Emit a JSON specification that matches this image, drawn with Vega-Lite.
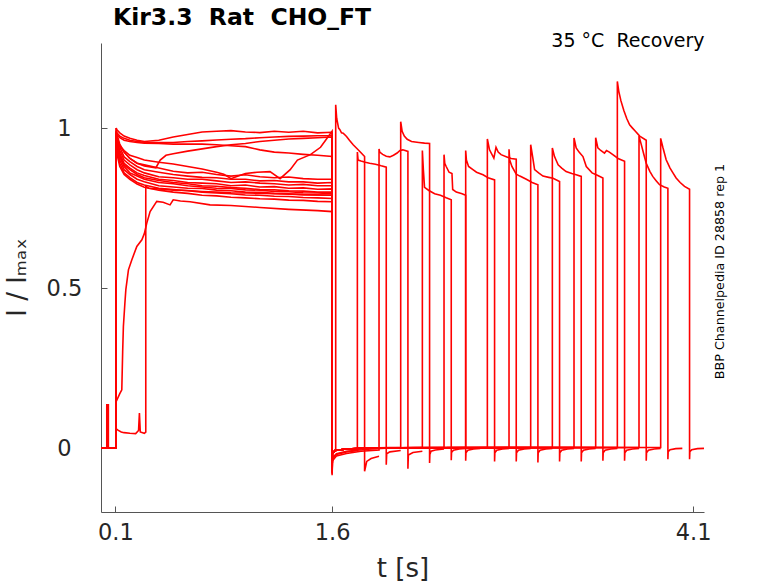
{
  "$schema": "https://vega.github.io/schema/vega-lite/v6.json",
  "autosize": "none",
  "width": 603,
  "height": 469,
  "padding": {"left": 101, "top": 43, "right": 74, "bottom": 71},
  "title": {
    "text": "Kir3.3\u00a0\u00a0Rat\u00a0\u00a0CHO_FT",
    "anchor": "start",
    "frame": "group",
    "font": "DejaVu Sans",
    "fontSize": 23.5,
    "fontWeight": "bold",
    "color": "#000000",
    "baseline": "alphabetic",
    "offset": 7,
    "dx": 12,
    "dy": 24
  },
  "config": {
    "view": {"stroke": null},
    "font": "DejaVu Sans",
    "axis": {"grid": false}
  },
  "data": {
    "values": [
      {"s":"A","t":0,"i":0},{"s":"A","t":0.105,"i":0},{"s":"A","t":0.105,"i":1.0},{"s":"A","t":0.11,"i":0.995},{"s":"A","t":0.13,"i":0.985},{"s":"A","t":0.16,"i":0.975},{"s":"A","t":0.2,"i":0.968},{"s":"A","t":0.25,"i":0.962},{"s":"A","t":0.3,"i":0.958},{"s":"A","t":0.4,"i":0.962},{"s":"A","t":0.5,"i":0.972},{"s":"A","t":0.6,"i":0.98},{"s":"A","t":0.7,"i":0.988},{"s":"A","t":0.8,"i":0.99},{"s":"A","t":0.9,"i":0.992},{"s":"A","t":1.0,"i":0.988},{"s":"A","t":1.1,"i":0.986},{"s":"A","t":1.2,"i":0.99},{"s":"A","t":1.3,"i":0.987},{"s":"A","t":1.4,"i":0.99},{"s":"A","t":1.5,"i":0.985},{"s":"A","t":1.6,"i":0.987},{"s":"A","t":1.6,"i":-0.07},{"s":"A","t":1.602,"i":-0.018},{"s":"A","t":1.62,"i":-0.008},{"s":"A","t":1.7,"i":-0.003},{"s":"A","t":1.85,"i":0},{"s":"A","t":3.575,"i":0.002},{"s":"A","t":3.575,"i":1.146},{"s":"A","t":3.585,"i":1.115},{"s":"A","t":3.6,"i":1.085},{"s":"A","t":3.62,"i":1.055},{"s":"A","t":3.64,"i":1.03},{"s":"A","t":3.66,"i":1.01},{"s":"A","t":3.68,"i":1.0},{"s":"A","t":3.7,"i":0.99},{"s":"A","t":3.73,"i":0.975},{"s":"A","t":3.775,"i":0.962},{"s":"A","t":3.775,"i":-0.04},{"s":"A","t":3.777,"i":-0.015},{"s":"A","t":3.79,"i":-0.007},{"s":"A","t":3.83,"i":-0.003},{"s":"A","t":3.875,"i":-0.001},

      {"s":"B","t":0,"i":0},{"s":"B","t":0.105,"i":0},{"s":"B","t":0.105,"i":0.99},{"s":"B","t":0.11,"i":0.985},{"s":"B","t":0.13,"i":0.975},{"s":"B","t":0.16,"i":0.968},{"s":"B","t":0.2,"i":0.962},{"s":"B","t":0.25,"i":0.958},{"s":"B","t":0.3,"i":0.956},{"s":"B","t":0.4,"i":0.955},{"s":"B","t":0.5,"i":0.955},{"s":"B","t":0.6,"i":0.958},{"s":"B","t":0.7,"i":0.96},{"s":"B","t":0.8,"i":0.963},{"s":"B","t":0.9,"i":0.965},{"s":"B","t":1.0,"i":0.967},{"s":"B","t":1.1,"i":0.97},{"s":"B","t":1.2,"i":0.972},{"s":"B","t":1.3,"i":0.974},{"s":"B","t":1.4,"i":0.975},{"s":"B","t":1.5,"i":0.976},{"s":"B","t":1.6,"i":0.976},{"s":"B","t":1.6,"i":-0.075},{"s":"B","t":1.602,"i":-0.02},{"s":"B","t":1.615,"i":-0.01},{"s":"B","t":1.625,"i":-0.008},{"s":"B","t":1.625,"i":1.073},{"s":"B","t":1.632,"i":1.03},{"s":"B","t":1.645,"i":1.0},{"s":"B","t":1.654,"i":0.995},{"s":"B","t":1.665,"i":0.985},{"s":"B","t":1.677,"i":0.984},{"s":"B","t":1.7,"i":0.974},{"s":"B","t":1.72,"i":0.962},{"s":"B","t":1.746,"i":0.948},{"s":"B","t":1.77,"i":0.937},{"s":"B","t":1.792,"i":0.927},{"s":"B","t":1.825,"i":0.911},{"s":"B","t":1.825,"i":-0.073},{"s":"B","t":1.84,"i":-0.042},{"s":"B","t":1.87,"i":-0.033},{"s":"B","t":1.925,"i":-0.026},

      {"s":"C","t":0,"i":0},{"s":"C","t":0.105,"i":0},{"s":"C","t":0.105,"i":0.985},{"s":"C","t":0.11,"i":0.98},{"s":"C","t":0.13,"i":0.97},{"s":"C","t":0.16,"i":0.962},{"s":"C","t":0.2,"i":0.958},{"s":"C","t":0.25,"i":0.955},{"s":"C","t":0.3,"i":0.953},{"s":"C","t":0.4,"i":0.952},{"s":"C","t":0.5,"i":0.95},{"s":"C","t":0.6,"i":0.95},{"s":"C","t":0.7,"i":0.95},{"s":"C","t":0.8,"i":0.948},{"s":"C","t":0.9,"i":0.945},{"s":"C","t":1.0,"i":0.942},{"s":"C","t":1.1,"i":0.932},{"s":"C","t":1.2,"i":0.925},{"s":"C","t":1.3,"i":0.922},{"s":"C","t":1.4,"i":0.918},{"s":"C","t":1.5,"i":0.915},{"s":"C","t":1.6,"i":0.911},{"s":"C","t":1.6,"i":-0.065},{"s":"C","t":1.602,"i":-0.017},{"s":"C","t":1.62,"i":-0.008},{"s":"C","t":1.7,"i":-0.003},{"s":"C","t":1.85,"i":0},{"s":"C","t":2.075,"i":0.002},{"s":"C","t":2.075,"i":1.02},{"s":"C","t":2.085,"i":0.99},{"s":"C","t":2.1,"i":0.975},{"s":"C","t":2.12,"i":0.965},{"s":"C","t":2.15,"i":0.958},{"s":"C","t":2.2,"i":0.955},{"s":"C","t":2.24,"i":0.953},{"s":"C","t":2.275,"i":0.952},{"s":"C","t":2.275,"i":-0.047},{"s":"C","t":2.277,"i":-0.02},{"s":"C","t":2.285,"i":-0.01},{"s":"C","t":2.315,"i":-0.006},{"s":"C","t":2.375,"i":-0.003},

      {"s":"D","t":0,"i":0},{"s":"D","t":0.105,"i":0},{"s":"D","t":0.105,"i":0.97},{"s":"D","t":0.11,"i":0.96},{"s":"D","t":0.13,"i":0.945},{"s":"D","t":0.16,"i":0.93},{"s":"D","t":0.2,"i":0.915},{"s":"D","t":0.25,"i":0.908},{"s":"D","t":0.3,"i":0.9},{"s":"D","t":0.4,"i":0.893},{"s":"D","t":0.5,"i":0.888},{"s":"D","t":0.6,"i":0.88},{"s":"D","t":0.7,"i":0.872},{"s":"D","t":0.8,"i":0.862},{"s":"D","t":0.85,"i":0.856},{"s":"D","t":0.9,"i":0.842},{"s":"D","t":0.95,"i":0.85},{"s":"D","t":1.0,"i":0.858},{"s":"D","t":1.08,"i":0.862},{"s":"D","t":1.17,"i":0.864},{"s":"D","t":1.24,"i":0.842},{"s":"D","t":1.31,"i":0.87},{"s":"D","t":1.36,"i":0.9},{"s":"D","t":1.45,"i":0.917},{"s":"D","t":1.52,"i":0.94},{"s":"D","t":1.56,"i":0.965},{"s":"D","t":1.6,"i":0.99},{"s":"D","t":1.6,"i":-0.07},{"s":"D","t":1.602,"i":-0.018},{"s":"D","t":1.62,"i":-0.008},{"s":"D","t":1.7,"i":-0.003},{"s":"D","t":1.85,"i":0},{"s":"D","t":3.425,"i":0.002},{"s":"D","t":3.425,"i":0.97},{"s":"D","t":3.44,"i":0.938},{"s":"D","t":3.46,"i":0.93},{"s":"D","t":3.486,"i":0.922},{"s":"D","t":3.5,"i":0.93},{"s":"D","t":3.52,"i":0.925},{"s":"D","t":3.544,"i":0.917},{"s":"D","t":3.58,"i":0.905},{"s":"D","t":3.625,"i":0.896},{"s":"D","t":3.625,"i":-0.04},{"s":"D","t":3.627,"i":-0.015},{"s":"D","t":3.64,"i":-0.007},{"s":"D","t":3.68,"i":-0.003},{"s":"D","t":3.725,"i":-0.001},

      {"s":"E","t":0,"i":0},{"s":"E","t":0.105,"i":0},{"s":"E","t":0.105,"i":0.98},{"s":"E","t":0.11,"i":0.965},{"s":"E","t":0.13,"i":0.945},{"s":"E","t":0.16,"i":0.925},{"s":"E","t":0.2,"i":0.905},{"s":"E","t":0.25,"i":0.89},{"s":"E","t":0.3,"i":0.882},{"s":"E","t":0.38,"i":0.876},{"s":"E","t":0.41,"i":0.9},{"s":"E","t":0.45,"i":0.915},{"s":"E","t":0.5,"i":0.92},{"s":"E","t":0.6,"i":0.928},{"s":"E","t":0.7,"i":0.935},{"s":"E","t":0.8,"i":0.942},{"s":"E","t":0.9,"i":0.948},{"s":"E","t":1.0,"i":0.952},{"s":"E","t":1.1,"i":0.958},{"s":"E","t":1.2,"i":0.962},{"s":"E","t":1.3,"i":0.966},{"s":"E","t":1.4,"i":0.968},{"s":"E","t":1.5,"i":0.97},{"s":"E","t":1.6,"i":0.972},{"s":"E","t":1.6,"i":-0.072},{"s":"E","t":1.602,"i":-0.018},{"s":"E","t":1.62,"i":-0.008},{"s":"E","t":1.7,"i":-0.003},{"s":"E","t":1.85,"i":0},{"s":"E","t":2.675,"i":0.002},{"s":"E","t":2.675,"i":0.966},{"s":"E","t":2.69,"i":0.932},{"s":"E","t":2.72,"i":0.906},{"s":"E","t":2.735,"i":0.94},{"s":"E","t":2.75,"i":0.925},{"s":"E","t":2.77,"i":0.917},{"s":"E","t":2.81,"i":0.91},{"s":"E","t":2.84,"i":0.905},{"s":"E","t":2.875,"i":0.903},{"s":"E","t":2.875,"i":-0.042},{"s":"E","t":2.877,"i":-0.015},{"s":"E","t":2.89,"i":-0.007},{"s":"E","t":2.93,"i":-0.003},{"s":"E","t":2.975,"i":-0.001},

      {"s":"F","t":0,"i":0},{"s":"F","t":0.105,"i":0},{"s":"F","t":0.105,"i":1.0},{"s":"F","t":0.11,"i":0.98},{"s":"F","t":0.13,"i":0.95},{"s":"F","t":0.16,"i":0.925},{"s":"F","t":0.2,"i":0.905},{"s":"F","t":0.25,"i":0.89},{"s":"F","t":0.3,"i":0.885},{"s":"F","t":0.4,"i":0.875},{"s":"F","t":0.5,"i":0.865},{"s":"F","t":0.6,"i":0.86},{"s":"F","t":0.7,"i":0.862},{"s":"F","t":0.8,"i":0.855},{"s":"F","t":0.9,"i":0.85},{"s":"F","t":1.0,"i":0.854},{"s":"F","t":1.1,"i":0.848},{"s":"F","t":1.2,"i":0.845},{"s":"F","t":1.3,"i":0.847},{"s":"F","t":1.4,"i":0.842},{"s":"F","t":1.5,"i":0.84},{"s":"F","t":1.6,"i":0.84},{"s":"F","t":1.6,"i":-0.068},{"s":"F","t":1.602,"i":-0.018},{"s":"F","t":1.62,"i":-0.008},{"s":"F","t":1.7,"i":-0.003},{"s":"F","t":1.85,"i":0},{"s":"F","t":3.275,"i":0.002},{"s":"F","t":3.275,"i":0.969},{"s":"F","t":3.29,"i":0.938},{"s":"F","t":3.31,"i":0.925},{"s":"F","t":3.337,"i":0.911},{"s":"F","t":3.36,"i":0.88},{"s":"F","t":3.4,"i":0.86},{"s":"F","t":3.44,"i":0.852},{"s":"F","t":3.475,"i":0.844},{"s":"F","t":3.475,"i":-0.04},{"s":"F","t":3.477,"i":-0.015},{"s":"F","t":3.49,"i":-0.007},{"s":"F","t":3.53,"i":-0.003},{"s":"F","t":3.575,"i":-0.001},

      {"s":"G","t":0,"i":0},{"s":"G","t":0.105,"i":0},{"s":"G","t":0.105,"i":0.99},{"s":"G","t":0.11,"i":0.97},{"s":"G","t":0.13,"i":0.94},{"s":"G","t":0.16,"i":0.91},{"s":"G","t":0.2,"i":0.895},{"s":"G","t":0.25,"i":0.88},{"s":"G","t":0.3,"i":0.87},{"s":"G","t":0.4,"i":0.862},{"s":"G","t":0.5,"i":0.855},{"s":"G","t":0.6,"i":0.85},{"s":"G","t":0.7,"i":0.846},{"s":"G","t":0.8,"i":0.845},{"s":"G","t":0.9,"i":0.84},{"s":"G","t":1.0,"i":0.84},{"s":"G","t":1.1,"i":0.835},{"s":"G","t":1.2,"i":0.836},{"s":"G","t":1.3,"i":0.832},{"s":"G","t":1.4,"i":0.832},{"s":"G","t":1.5,"i":0.828},{"s":"G","t":1.6,"i":0.83},{"s":"G","t":1.6,"i":-0.066},{"s":"G","t":1.602,"i":-0.018},{"s":"G","t":1.62,"i":-0.008},{"s":"G","t":1.7,"i":-0.003},{"s":"G","t":1.85,"i":0},{"s":"G","t":3.875,"i":0.002},{"s":"G","t":3.875,"i":0.968},{"s":"G","t":3.89,"i":0.94},{"s":"G","t":3.913,"i":0.901},{"s":"G","t":3.94,"i":0.875},{"s":"G","t":3.96,"i":0.86},{"s":"G","t":3.982,"i":0.844},{"s":"G","t":4.01,"i":0.83},{"s":"G","t":4.04,"i":0.818},{"s":"G","t":4.075,"i":0.809},{"s":"G","t":4.075,"i":-0.035},{"s":"G","t":4.077,"i":-0.012},{"s":"G","t":4.09,"i":-0.005},{"s":"G","t":4.13,"i":-0.002},{"s":"G","t":4.175,"i":-0.001},

      {"s":"H","t":0,"i":0},{"s":"H","t":0.105,"i":0},{"s":"H","t":0.105,"i":0.985},{"s":"H","t":0.11,"i":0.96},{"s":"H","t":0.13,"i":0.93},{"s":"H","t":0.16,"i":0.9},{"s":"H","t":0.2,"i":0.885},{"s":"H","t":0.25,"i":0.87},{"s":"H","t":0.3,"i":0.86},{"s":"H","t":0.4,"i":0.848},{"s":"H","t":0.5,"i":0.845},{"s":"H","t":0.6,"i":0.84},{"s":"H","t":0.7,"i":0.84},{"s":"H","t":0.8,"i":0.835},{"s":"H","t":0.9,"i":0.83},{"s":"H","t":1.0,"i":0.832},{"s":"H","t":1.1,"i":0.828},{"s":"H","t":1.2,"i":0.826},{"s":"H","t":1.3,"i":0.822},{"s":"H","t":1.4,"i":0.824},{"s":"H","t":1.5,"i":0.82},{"s":"H","t":1.6,"i":0.82},{"s":"H","t":1.6,"i":-0.07},{"s":"H","t":1.602,"i":-0.018},{"s":"H","t":1.62,"i":-0.008},{"s":"H","t":1.7,"i":-0.003},{"s":"H","t":1.85,"i":0},{"s":"H","t":3.725,"i":0.002},{"s":"H","t":3.725,"i":0.975},{"s":"H","t":3.74,"i":0.95},{"s":"H","t":3.76,"i":0.915},{"s":"H","t":3.775,"i":0.89},{"s":"H","t":3.8,"i":0.865},{"s":"H","t":3.82,"i":0.849},{"s":"H","t":3.845,"i":0.835},{"s":"H","t":3.867,"i":0.823},{"s":"H","t":3.9,"i":0.816},{"s":"H","t":3.925,"i":0.812},{"s":"H","t":3.925,"i":-0.035},{"s":"H","t":3.927,"i":-0.012},{"s":"H","t":3.94,"i":-0.005},{"s":"H","t":3.98,"i":-0.002},{"s":"H","t":4.025,"i":-0.001},

      {"s":"I","t":0,"i":0},{"s":"I","t":0.105,"i":0},{"s":"I","t":0.105,"i":0.98},{"s":"I","t":0.11,"i":0.955},{"s":"I","t":0.13,"i":0.92},{"s":"I","t":0.16,"i":0.89},{"s":"I","t":0.2,"i":0.875},{"s":"I","t":0.25,"i":0.86},{"s":"I","t":0.3,"i":0.852},{"s":"I","t":0.4,"i":0.84},{"s":"I","t":0.5,"i":0.836},{"s":"I","t":0.6,"i":0.83},{"s":"I","t":0.7,"i":0.828},{"s":"I","t":0.8,"i":0.826},{"s":"I","t":0.9,"i":0.82},{"s":"I","t":1.0,"i":0.822},{"s":"I","t":1.1,"i":0.816},{"s":"I","t":1.2,"i":0.817},{"s":"I","t":1.3,"i":0.812},{"s":"I","t":1.4,"i":0.813},{"s":"I","t":1.5,"i":0.809},{"s":"I","t":1.6,"i":0.81},{"s":"I","t":1.6,"i":-0.068},{"s":"I","t":1.602,"i":-0.018},{"s":"I","t":1.62,"i":-0.008},{"s":"I","t":1.7,"i":-0.003},{"s":"I","t":1.85,"i":0},{"s":"I","t":2.975,"i":0.002},{"s":"I","t":2.975,"i":0.948},{"s":"I","t":2.99,"i":0.906},{"s":"I","t":3.002,"i":0.87},{"s":"I","t":3.03,"i":0.86},{"s":"I","t":3.06,"i":0.85},{"s":"I","t":3.1,"i":0.846},{"s":"I","t":3.13,"i":0.843},{"s":"I","t":3.175,"i":0.833},{"s":"I","t":3.175,"i":-0.042},{"s":"I","t":3.177,"i":-0.015},{"s":"I","t":3.19,"i":-0.007},{"s":"I","t":3.23,"i":-0.003},{"s":"I","t":3.275,"i":-0.001},

      {"s":"J","t":0,"i":0},{"s":"J","t":0.105,"i":0},{"s":"J","t":0.105,"i":0.975},{"s":"J","t":0.11,"i":0.95},{"s":"J","t":0.13,"i":0.915},{"s":"J","t":0.16,"i":0.885},{"s":"J","t":0.2,"i":0.87},{"s":"J","t":0.25,"i":0.855},{"s":"J","t":0.3,"i":0.845},{"s":"J","t":0.4,"i":0.836},{"s":"J","t":0.5,"i":0.83},{"s":"J","t":0.6,"i":0.826},{"s":"J","t":0.7,"i":0.82},{"s":"J","t":0.8,"i":0.818},{"s":"J","t":0.9,"i":0.814},{"s":"J","t":1.0,"i":0.812},{"s":"J","t":1.1,"i":0.808},{"s":"J","t":1.2,"i":0.807},{"s":"J","t":1.3,"i":0.804},{"s":"J","t":1.4,"i":0.803},{"s":"J","t":1.5,"i":0.8},{"s":"J","t":1.6,"i":0.8},{"s":"J","t":1.6,"i":-0.072},{"s":"J","t":1.602,"i":-0.018},{"s":"J","t":1.62,"i":-0.008},{"s":"J","t":1.7,"i":-0.003},{"s":"J","t":1.85,"i":0},{"s":"J","t":3.125,"i":0.002},{"s":"J","t":3.125,"i":0.938},{"s":"J","t":3.14,"i":0.911},{"s":"J","t":3.165,"i":0.885},{"s":"J","t":3.19,"i":0.875},{"s":"J","t":3.22,"i":0.864},{"s":"J","t":3.26,"i":0.858},{"s":"J","t":3.29,"i":0.854},{"s":"J","t":3.325,"i":0.849},{"s":"J","t":3.325,"i":-0.042},{"s":"J","t":3.327,"i":-0.015},{"s":"J","t":3.34,"i":-0.007},{"s":"J","t":3.38,"i":-0.003},{"s":"J","t":3.425,"i":-0.001},

      {"s":"K","t":0,"i":0},{"s":"K","t":0.105,"i":0},{"s":"K","t":0.105,"i":0.97},{"s":"K","t":0.11,"i":0.945},{"s":"K","t":0.13,"i":0.91},{"s":"K","t":0.16,"i":0.88},{"s":"K","t":0.2,"i":0.86},{"s":"K","t":0.25,"i":0.85},{"s":"K","t":0.3,"i":0.84},{"s":"K","t":0.4,"i":0.83},{"s":"K","t":0.5,"i":0.826},{"s":"K","t":0.6,"i":0.82},{"s":"K","t":0.7,"i":0.816},{"s":"K","t":0.8,"i":0.812},{"s":"K","t":0.9,"i":0.811},{"s":"K","t":1.0,"i":0.807},{"s":"K","t":1.1,"i":0.806},{"s":"K","t":1.2,"i":0.802},{"s":"K","t":1.3,"i":0.801},{"s":"K","t":1.4,"i":0.798},{"s":"K","t":1.5,"i":0.797},{"s":"K","t":1.6,"i":0.795},{"s":"K","t":1.6,"i":-0.066},{"s":"K","t":1.602,"i":-0.018},{"s":"K","t":1.62,"i":-0.008},{"s":"K","t":1.7,"i":-0.003},{"s":"K","t":1.85,"i":0},{"s":"K","t":2.525,"i":0.002},{"s":"K","t":2.525,"i":0.93},{"s":"K","t":2.53,"i":0.9},{"s":"K","t":2.545,"i":0.88},{"s":"K","t":2.575,"i":0.87},{"s":"K","t":2.6,"i":0.862},{"s":"K","t":2.645,"i":0.854},{"s":"K","t":2.68,"i":0.845},{"s":"K","t":2.725,"i":0.838},{"s":"K","t":2.725,"i":-0.042},{"s":"K","t":2.727,"i":-0.015},{"s":"K","t":2.74,"i":-0.007},{"s":"K","t":2.78,"i":-0.003},{"s":"K","t":2.825,"i":-0.001},

      {"s":"L","t":0,"i":0},{"s":"L","t":0.105,"i":0},{"s":"L","t":0.105,"i":0.965},{"s":"L","t":0.11,"i":0.94},{"s":"L","t":0.13,"i":0.9},{"s":"L","t":0.16,"i":0.87},{"s":"L","t":0.2,"i":0.855},{"s":"L","t":0.25,"i":0.84},{"s":"L","t":0.3,"i":0.832},{"s":"L","t":0.4,"i":0.82},{"s":"L","t":0.5,"i":0.816},{"s":"L","t":0.6,"i":0.812},{"s":"L","t":0.7,"i":0.811},{"s":"L","t":0.8,"i":0.806},{"s":"L","t":0.9,"i":0.804},{"s":"L","t":1.0,"i":0.8},{"s":"L","t":1.1,"i":0.799},{"s":"L","t":1.2,"i":0.796},{"s":"L","t":1.3,"i":0.795},{"s":"L","t":1.4,"i":0.792},{"s":"L","t":1.5,"i":0.791},{"s":"L","t":1.6,"i":0.79},{"s":"L","t":1.6,"i":-0.07},{"s":"L","t":1.602,"i":-0.018},{"s":"L","t":1.62,"i":-0.008},{"s":"L","t":1.7,"i":-0.003},{"s":"L","t":1.85,"i":0},{"s":"L","t":2.825,"i":0.002},{"s":"L","t":2.825,"i":0.934},{"s":"L","t":2.83,"i":0.9},{"s":"L","t":2.845,"i":0.88},{"s":"L","t":2.875,"i":0.856},{"s":"L","t":2.9,"i":0.85},{"s":"L","t":2.945,"i":0.84},{"s":"L","t":2.985,"i":0.83},{"s":"L","t":3.025,"i":0.823},{"s":"L","t":3.025,"i":-0.045},{"s":"L","t":3.027,"i":-0.015},{"s":"L","t":3.04,"i":-0.007},{"s":"L","t":3.08,"i":-0.003},{"s":"L","t":3.125,"i":-0.001},

      {"s":"M","t":0,"i":0},{"s":"M","t":0.105,"i":0},{"s":"M","t":0.105,"i":0.96},{"s":"M","t":0.11,"i":0.93},{"s":"M","t":0.13,"i":0.89},{"s":"M","t":0.16,"i":0.86},{"s":"M","t":0.2,"i":0.845},{"s":"M","t":0.25,"i":0.83},{"s":"M","t":0.3,"i":0.822},{"s":"M","t":0.4,"i":0.812},{"s":"M","t":0.5,"i":0.808},{"s":"M","t":0.6,"i":0.804},{"s":"M","t":0.7,"i":0.8},{"s":"M","t":0.8,"i":0.797},{"s":"M","t":0.9,"i":0.795},{"s":"M","t":1.0,"i":0.791},{"s":"M","t":1.1,"i":0.79},{"s":"M","t":1.2,"i":0.787},{"s":"M","t":1.3,"i":0.786},{"s":"M","t":1.4,"i":0.783},{"s":"M","t":1.5,"i":0.782},{"s":"M","t":1.6,"i":0.78},{"s":"M","t":1.6,"i":-0.085},{"s":"M","t":1.603,"i":-0.04},{"s":"M","t":1.63,"i":-0.025},{"s":"M","t":1.7,"i":-0.017},{"s":"M","t":1.8,"i":-0.01},{"s":"M","t":1.925,"i":-0.006},{"s":"M","t":1.925,"i":0.935},{"s":"M","t":1.93,"i":0.925},{"s":"M","t":1.95,"i":0.918},{"s":"M","t":1.975,"i":0.912},{"s":"M","t":2.0,"i":0.91},{"s":"M","t":2.025,"i":0.915},{"s":"M","t":2.05,"i":0.922},{"s":"M","t":2.07,"i":0.93},{"s":"M","t":2.09,"i":0.932},{"s":"M","t":2.125,"i":0.927},{"s":"M","t":2.125,"i":-0.065},{"s":"M","t":2.128,"i":-0.022},{"s":"M","t":2.16,"i":-0.014},{"s":"M","t":2.225,"i":-0.01},

      {"s":"N","t":0,"i":0},{"s":"N","t":0.04,"i":0},{"s":"N","t":0.04,"i":0.135},{"s":"N","t":0.051,"i":0.135},{"s":"N","t":0.051,"i":0},{"s":"N","t":0.105,"i":0},{"s":"N","t":0.105,"i":0.95},{"s":"N","t":0.11,"i":0.92},{"s":"N","t":0.13,"i":0.88},{"s":"N","t":0.16,"i":0.855},{"s":"N","t":0.2,"i":0.84},{"s":"N","t":0.25,"i":0.825},{"s":"N","t":0.3,"i":0.815},{"s":"N","t":0.4,"i":0.806},{"s":"N","t":0.5,"i":0.8},{"s":"N","t":0.6,"i":0.796},{"s":"N","t":0.7,"i":0.79},{"s":"N","t":0.8,"i":0.788},{"s":"N","t":0.9,"i":0.784},{"s":"N","t":1.0,"i":0.782},{"s":"N","t":1.1,"i":0.779},{"s":"N","t":1.2,"i":0.778},{"s":"N","t":1.3,"i":0.775},{"s":"N","t":1.4,"i":0.774},{"s":"N","t":1.5,"i":0.771},{"s":"N","t":1.6,"i":0.77},{"s":"N","t":1.6,"i":-0.08},{"s":"N","t":1.602,"i":-0.035},{"s":"N","t":1.63,"i":-0.02},{"s":"N","t":1.7,"i":-0.012},{"s":"N","t":1.775,"i":-0.008},{"s":"N","t":1.775,"i":0.925},{"s":"N","t":1.78,"i":0.9},{"s":"N","t":1.8,"i":0.897},{"s":"N","t":1.83,"i":0.893},{"s":"N","t":1.86,"i":0.89},{"s":"N","t":1.9,"i":0.887},{"s":"N","t":1.94,"i":0.882},{"s":"N","t":1.975,"i":0.878},{"s":"N","t":1.975,"i":-0.052},{"s":"N","t":1.978,"i":-0.018},{"s":"N","t":2.0,"i":-0.012},{"s":"N","t":2.075,"i":-0.008},

      {"s":"S1","t":0,"i":0},{"s":"S1","t":0.105,"i":0},{"s":"S1","t":0.105,"i":0.156},{"s":"S1","t":0.11,"i":0.15},{"s":"S1","t":0.13,"i":0.17},{"s":"S1","t":0.144,"i":0.182},{"s":"S1","t":0.15,"i":0.3},{"s":"S1","t":0.155,"i":0.38},{"s":"S1","t":0.165,"i":0.45},{"s":"S1","t":0.172,"i":0.495},{"s":"S1","t":0.19,"i":0.557},{"s":"S1","t":0.213,"i":0.588},{"s":"S1","t":0.248,"i":0.63},{"s":"S1","t":0.283,"i":0.651},{"s":"S1","t":0.3,"i":0.67},{"s":"S1","t":0.317,"i":0.703},{"s":"S1","t":0.34,"i":0.739},{"s":"S1","t":0.386,"i":0.771},{"s":"S1","t":0.43,"i":0.768},{"s":"S1","t":0.478,"i":0.76},{"s":"S1","t":0.5,"i":0.776},{"s":"S1","t":0.55,"i":0.772},{"s":"S1","t":0.617,"i":0.77},{"s":"S1","t":0.755,"i":0.76},{"s":"S1","t":0.9,"i":0.758},{"s":"S1","t":1.1,"i":0.752},{"s":"S1","t":1.3,"i":0.746},{"s":"S1","t":1.5,"i":0.742},{"s":"S1","t":1.6,"i":0.739},{"s":"S1","t":1.6,"i":-0.08},{"s":"S1","t":1.603,"i":-0.03},{"s":"S1","t":1.63,"i":-0.018},{"s":"S1","t":1.7,"i":-0.01},{"s":"S1","t":1.85,"i":-0.004},{"s":"S1","t":2.0,"i":0},{"s":"S1","t":2.225,"i":0.002},{"s":"S1","t":2.225,"i":0.93},{"s":"S1","t":2.232,"i":0.87},{"s":"S1","t":2.24,"i":0.815},{"s":"S1","t":2.27,"i":0.805},{"s":"S1","t":2.31,"i":0.795},{"s":"S1","t":2.35,"i":0.79},{"s":"S1","t":2.39,"i":0.782},{"s":"S1","t":2.425,"i":0.776},{"s":"S1","t":2.425,"i":-0.038},{"s":"S1","t":2.427,"i":-0.014},{"s":"S1","t":2.44,"i":-0.007},{"s":"S1","t":2.48,"i":-0.003},{"s":"S1","t":2.525,"i":-0.001},

      {"s":"S2","t":0,"i":0},{"s":"S2","t":0.105,"i":0},{"s":"S2","t":0.105,"i":0.06},{"s":"S2","t":0.12,"i":0.055},{"s":"S2","t":0.14,"i":0.05},{"s":"S2","t":0.16,"i":0.048},{"s":"S2","t":0.2,"i":0.046},{"s":"S2","t":0.24,"i":0.045},{"s":"S2","t":0.26,"i":0.055},{"s":"S2","t":0.266,"i":0.109},{"s":"S2","t":0.272,"i":0.05},{"s":"S2","t":0.3,"i":0.046},{"s":"S2","t":0.31,"i":0.05},{"s":"S2","t":0.31,"i":0.818},{"s":"S2","t":0.33,"i":0.812},{"s":"S2","t":0.4,"i":0.81},{"s":"S2","t":0.5,"i":0.806},{"s":"S2","t":0.6,"i":0.805},{"s":"S2","t":0.7,"i":0.802},{"s":"S2","t":0.8,"i":0.8},{"s":"S2","t":0.9,"i":0.798},{"s":"S2","t":1.0,"i":0.797},{"s":"S2","t":1.2,"i":0.795},{"s":"S2","t":1.4,"i":0.792},{"s":"S2","t":1.6,"i":0.79},{"s":"S2","t":1.6,"i":-0.07},{"s":"S2","t":1.602,"i":-0.018},{"s":"S2","t":1.62,"i":-0.008},{"s":"S2","t":1.7,"i":-0.003},{"s":"S2","t":1.85,"i":0},{"s":"S2","t":2.375,"i":0.002},{"s":"S2","t":2.375,"i":0.917},{"s":"S2","t":2.38,"i":0.89},{"s":"S2","t":2.39,"i":0.88},{"s":"S2","t":2.41,"i":0.862},{"s":"S2","t":2.43,"i":0.858},{"s":"S2","t":2.435,"i":0.808},{"s":"S2","t":2.46,"i":0.8},{"s":"S2","t":2.5,"i":0.795},{"s":"S2","t":2.525,"i":0.79},{"s":"S2","t":2.525,"i":-0.04},{"s":"S2","t":2.527,"i":-0.015},{"s":"S2","t":2.54,"i":-0.007},{"s":"S2","t":2.58,"i":-0.003},{"s":"S2","t":2.625,"i":-0.001}
    ]
  },
  "layer": [
    {
      "mark": {"type": "line", "color": "#ff0000", "strokeWidth": 1.6, "clip": true},
      "encoding": {
        "x": {
          "field": "t",
          "type": "quantitative",
          "scale": {"domain": [0, 4.175], "nice": false, "zero": false},
          "axis": {
            "orient": "bottom",
            "values": [0.1, 1.6, 4.1],
            "format": ".1f",
            "tickSize": -6,
            "tickColor": "#555555",
            "domainColor": "#555555",
            "labelFont": "DejaVu Sans",
            "labelFontSize": 22.5,
            "labelColor": "#262626",
            "labelBaseline": "alphabetic",
            "labelPadding": 33,
            "labelFlush": false,
            "title": "t [s]",
            "titleFont": "DejaVu Sans",
            "titleFontSize": 26,
            "titleFontWeight": "normal",
            "titleColor": "#262626",
            "titleBaseline": "alphabetic",
            "titleAnchor": "middle",
            "titleY": 64
          }
        },
        "y": {
          "field": "i",
          "type": "quantitative",
          "scale": {"domain": [-0.2, 1.266], "nice": false, "zero": false},
          "axis": {
            "orient": "left",
            "values": [0, 0.5, 1],
            "format": "~g",
            "tickSize": -6,
            "tickColor": "#555555",
            "domainColor": "#555555",
            "labelFont": "DejaVu Sans",
            "labelFontSize": 22.5,
            "labelColor": "#262626",
            "labelAlign": "center",
            "labelPadding": 43,
            "title": "I / Iₘₐₓ",
            "titleFont": "DejaVu Sans",
            "titleFontSize": 26,
            "titleFontWeight": "normal",
            "titleColor": "#262626",
            "titleBaseline": "alphabetic",
            "titleAngle": 270,
            "titleAlign": "center",
            "titleX": -76,
            "titleY": 234
          }
        },
        "detail": {"field": "s"},
        "order": {"value": null}
      }
    },
    {
      "transform": [{"filter": "datum.t == 0"}],
      "mark": {"type": "point", "opacity": 0},
      "encoding": {
        "x": {
          "field": "t",
          "type": "quantitative",
          "axis": {
            "orient": "top",
            "domain": false,
            "ticks": false,
            "labels": false,
            "title": "35 °C\u00a0\u00a0Recovery",
            "titleFont": "DejaVu Sans",
            "titleFontSize": 19,
            "titleFontWeight": "normal",
            "titleColor": "#000000",
            "titleBaseline": "alphabetic",
            "titleAlign": "right",
            "titleX": 603,
            "titleY": 3.5
          }
        },
        "y": {
          "field": "i",
          "type": "quantitative",
          "axis": {
            "orient": "right",
            "domain": false,
            "ticks": false,
            "labels": false,
            "title": "BBP Channelpedia ID 28858 rep 1",
            "titleFont": "DejaVu Sans",
            "titleFontSize": 12.7,
            "titleFontWeight": "normal",
            "titleColor": "#000000",
            "titleBaseline": "alphabetic",
            "titleAngle": 270,
            "titleAlign": "center",
            "titleX": 19,
            "titleY": 228
          }
        }
      }
    }
  ],
  "resolve": {"axis": {"x": "independent", "y": "independent"}}
}
